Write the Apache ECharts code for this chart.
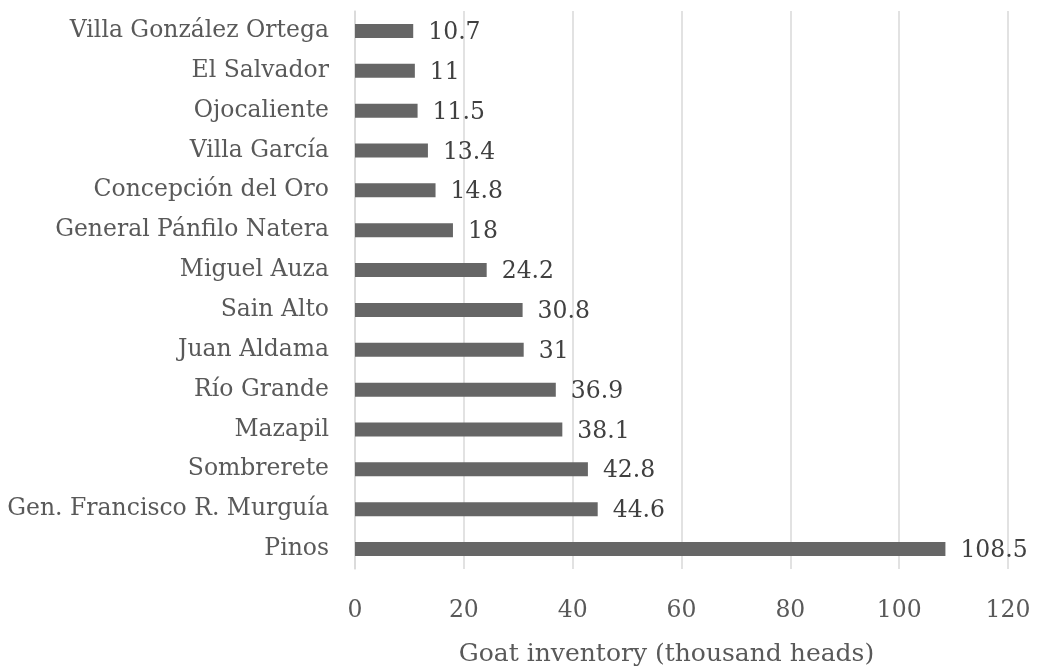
<!DOCTYPE html>
<html><head><meta charset="utf-8">
<script src="https://cdn.jsdelivr.net/npm/echarts@6/dist/echarts.min.js"></script>
<style>html,body{margin:0;padding:0;background:#fff}#c{width:1040px;height:666px}</style>
</head><body><div id="c"></div>
<script>
const categories = ["Pinos","Gen. Francisco R. Murguía","Sombrerete","Mazapil","Río Grande","Juan Aldama","Sain Alto","Miguel Auza","General Pánfilo Natera","Concepción del Oro","Villa García","Ojocaliente","El Salvador","Villa González Ortega"];
const values = [108.5,44.6,42.8,38.1,36.9,31,30.8,24.2,18,14.8,13.4,11.5,11,10.7];
const xTicks = [0,20,40,60,80,100,120];
const axisTitle = "Goat inventory (thousand heads)";
const FONT = "DejaVu Serif";
const FS = 23.5;
const chart = echarts.init(document.getElementById('c'));
chart.setOption({
  animation:false,
  grid:{left:355,right:32,top:11,bottom:97,containLabel:false,outerBoundsMode:'none'},
  xAxis:{type:'value',min:xTicks[0],max:xTicks[xTicks.length-1],interval:20,
    name:axisTitle,nameLocation:'middle',nameGap:73,
    nameTextStyle:{fontFamily:FONT,fontSize:25,color:'#595959',padding:[0,30,0,0]},
    axisLine:{show:false},axisTick:{show:false},
    axisLabel:{fontFamily:FONT,fontSize:FS,color:'#595959',margin:30},
    splitLine:{lineStyle:{color:'#d9d9d9',width:1.5}}},
  yAxis:{type:'category',data:categories,
    axisLine:{show:true,lineStyle:{color:'#d9d9d9',width:1.5}},axisTick:{show:false},
    axisLabel:{fontFamily:FONT,fontSize:FS,color:'#595959',margin:26}},
  series:[{type:'bar',data:values,barWidth:14,
    itemStyle:{color:'#666666'},
    label:{show:true,position:'right',distance:15,fontFamily:FONT,fontSize:FS,color:'#404040',offset:[0,2]}}]
});
</script></body></html>
